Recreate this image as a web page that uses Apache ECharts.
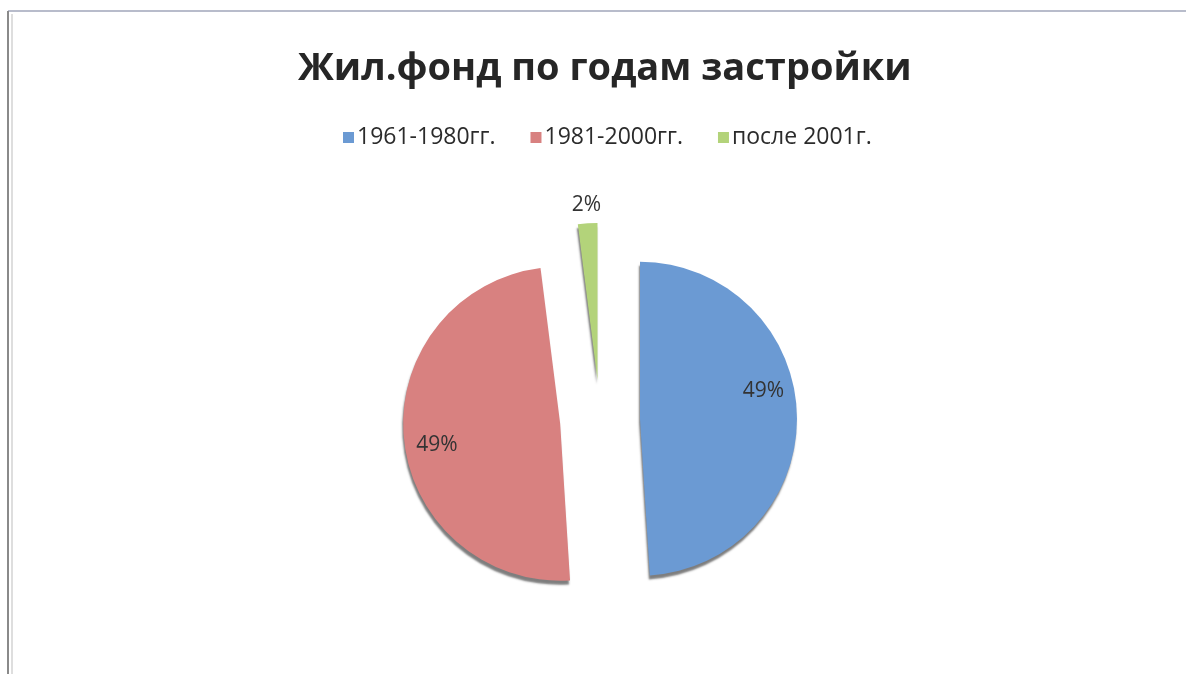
<!DOCTYPE html>
<html>
<head>
<meta charset="utf-8">
<script src="https://cdn.jsdelivr.net/npm/echarts@6/dist/echarts.min.js"></script>
<style>
html,body{margin:0;padding:0;background:#fff;}
#chart{width:1186px;height:674px;}
</style>
</head>
<body>
<div id="chart"></div>
<script>
const titleText = 'Жил.фонд по годам застройки';
const categories = ['1961-1980гг.', '1981-2000гг.', 'после 2001г.'];
const values = [49, 49, 2];
const colors = ['#6b9ad3', '#d88180', '#b3d37a'];
const labelShift = [[42, -25], [-42, 14], [-6, -94]];

const chart = echarts.init(document.getElementById('chart'));
chart.setOption({
  backgroundColor: '#ffffff',
  animation: false,
  title: {
    text: titleText,
    left: 293,
    top: 45,
    textStyle: {fontFamily: 'Open Sans', fontWeight: 'bold', fontSize: 38, color: '#262626'}
  },
  legend: {
    top: 121,
    left: 338,
    itemWidth: 11,
    itemHeight: 11,
    itemGap: 35,
    icon: 'rect',
    selectedMode: false,
    textStyle: {fontFamily: 'Open Sans', fontSize: 23, color: '#2b2b2b', padding: [0, 0, 0, -2]},
    data: categories
  },
  graphic: [
    {type: 'line', shape: {x1: 8, y1: 11, x2: 1186, y2: 11}, style: {stroke: '#b8bccb', lineWidth: 2}},
    {type: 'line', shape: {x1: 8, y1: 11, x2: 8, y2: 674}, style: {stroke: '#8a8a8a', lineWidth: 2}},
    {type: 'line', shape: {x1: 12, y1: 14, x2: 12, y2: 674}, style: {stroke: '#bdbdbd', lineWidth: 1}}
  ],
  series: [{
    type: 'pie',
    center: [600, 420],
    radius: [0, 157],
    startAngle: 90,
    clockwise: true,
    selectedMode: 'multiple',
    selectedOffset: 40,
    emphasis: {disabled: true},
    itemStyle: {shadowColor: 'rgba(40,40,40,0.6)', shadowBlur: 2, shadowOffsetX: -1, shadowOffsetY: 4},
    label: {
      show: true,
      position: 'inside',
      formatter: '{d}%',
      fontFamily: 'Open Sans',
      fontSize: 21,
      color: '#333333'
    },
    labelLine: {show: false},
    labelLayout: function (p) {
      const s = labelShift[p.dataIndex];
      return {dx: s[0], dy: s[1]};
    },
    data: categories.map((c, i) => ({
      name: c,
      value: values[i],
      selected: true,
      itemStyle: {color: colors[i]}
    }))
  }]
});
</script>
</body>
</html>
